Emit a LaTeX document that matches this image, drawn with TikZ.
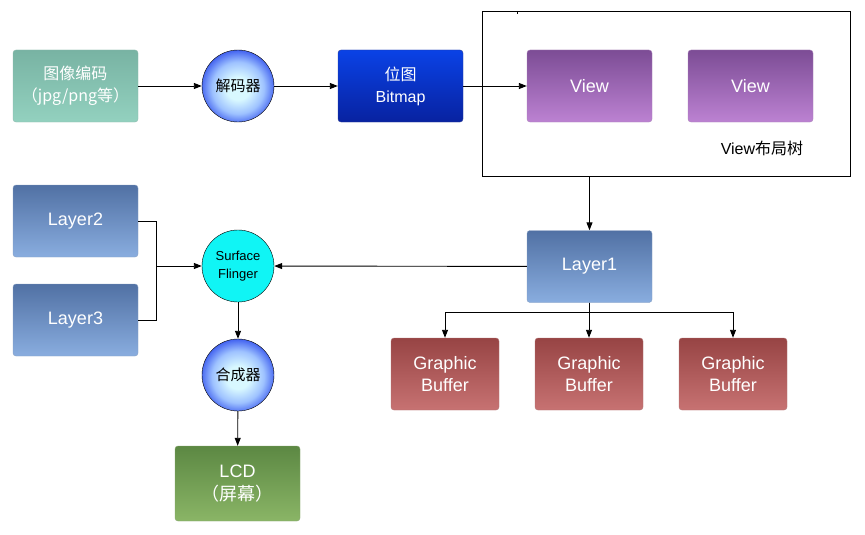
\documentclass[tikz,border=0pt]{standalone}
\usepackage{fontspec}
\setmainfont{Liberation Sans}
\newfontfamily\cjk{Noto Sans CJK SC}
\usetikzlibrary{arrows.meta}
\definecolor{codeTop}{HTML}{78B3A3}
\definecolor{codeBot}{HTML}{93D1BF}
\definecolor{bmpTop}{HTML}{0A42E6}
\definecolor{bmpBot}{HTML}{0822A0}
\definecolor{viewTop}{HTML}{7C4C95}
\definecolor{viewBot}{HTML}{BC82D2}
\definecolor{layerTop}{HTML}{5171A4}
\definecolor{layerBot}{HTML}{89ADDF}
\definecolor{gbTop}{HTML}{974444}
\definecolor{gbBot}{HTML}{C77272}
\definecolor{lcdTop}{HTML}{5C8843}
\definecolor{lcdBot}{HTML}{8AB566}
\definecolor{ballIn}{HTML}{D8F8FF}
\definecolor{ballMid}{HTML}{9EC2FF}
\definecolor{ballOut}{HTML}{4262F0}
\definecolor{sfFill}{HTML}{10F5F5}
\pgfdeclareradialshading{ballshade}{\pgfpoint{0bp}{-2bp}}{color(0bp)=(ballIn);
  color(8bp)=(ballIn); color(18bp)=(ballMid); color(26bp)=(ballOut); color(50bp)=(ballOut)}
\tikzset{
  box/.style 2 args={rectangle,rounded corners=3pt,minimum width=125pt,minimum height=72pt,
    top color=#1,bottom color=#2,draw=#2!70!gray,thin,text=white,align=center,
    font=\fontsize{18}{22}\selectfont},
  ball/.style={circle,draw,thin,minimum size=72pt,inner sep=0pt,shading=ballshade,
    font=\cjk\fontsize{15}{18}\selectfont},
  arr/.style={-{Triangle[length=8pt,width=6pt]}},
}
\begin{document}
\begin{tikzpicture}[x=1pt,y=1pt,line width=0.9pt]
\useasboundingbox (0,0) rectangle (865,-535);
% top row
\node[box={codeTop}{codeBot},font=\cjk\fontsize{16}{22}\selectfont] (code) at (75.5,-86) {图像编码\\（jpg/png等）};
\node[ball] (decoder) at (238,-86) {解码器};
\node[box={bmpTop}{bmpBot},font=\fontsize{16}{22}\selectfont] (bitmap) at (400.5,-86) {{\cjk 位图}\\Bitmap};
\node[draw,minimum width=368pt,minimum height=165pt,inner sep=0pt] (tree) at (666,-93.5) {};
\draw (517,-11) -- (517,-14);
\node[box={viewTop}{viewBot}] (view1) at (589.5,-86) {View};
\node[box={viewTop}{viewBot}] (view2) at (750.5,-86) {View};
\node[font=\fontsize{16}{18}\selectfont] (treelabel) at (762,-148) {View{\cjk 布局树}};
% layers
\node[box={layerTop}{layerBot}] (layer1) at (589.5,-266.5) {Layer1};
\node[box={layerTop}{layerBot}] (layer2) at (75.5,-221) {Layer2};
\node[box={layerTop}{layerBot}] (layer3) at (75.5,-320) {Layer3};
\node[circle,draw,thin,minimum size=72pt,inner sep=0pt,fill=sfFill,align=center,
  font=\fontsize{13}{18}\selectfont] (sf) at (238,-266) {Surface\\Flinger};
\node[ball] (combiner) at (238,-375) {合成器};
\node[box={lcdTop}{lcdBot},minimum height=75pt,font=\fontsize{18}{23}\selectfont] (lcd) at (237.5,-483.5) {LCD\\{\cjk （屏幕）}};
% buffers
\node[box={gbTop}{gbBot},minimum width=108pt] (gb1) at (445,-374) {Graphic\\Buffer};
\node[box={gbTop}{gbBot},minimum width=108pt] (gb2) at (589,-374) {Graphic\\Buffer};
\node[box={gbTop}{gbBot},minimum width=108pt] (gb3) at (733,-374) {Graphic\\Buffer};
% connectors
\draw[arr] (code) -- (decoder);
\draw[arr] (decoder) -- (bitmap);
\draw[arr] (bitmap) -- (view1);
\draw[arr] (tree.south -| layer1) -- (layer1);
\draw[arr] (layer1) -- (sf);
\coordinate (join) at (156,-266);
\draw (layer2.east) -| (join);
\draw (layer3.east) -| (join);
\draw[arr] (join) -- (sf);
\draw[arr] (sf) -- (combiner);
\draw[arr] (combiner) -- (lcd);
\coordinate (split) at (589.5,-312);
\foreach \g in {gb1,gb2,gb3}
  \draw[arr] (layer1.south) -- (split) -| (\g.north);
\end{tikzpicture}
\end{document}
